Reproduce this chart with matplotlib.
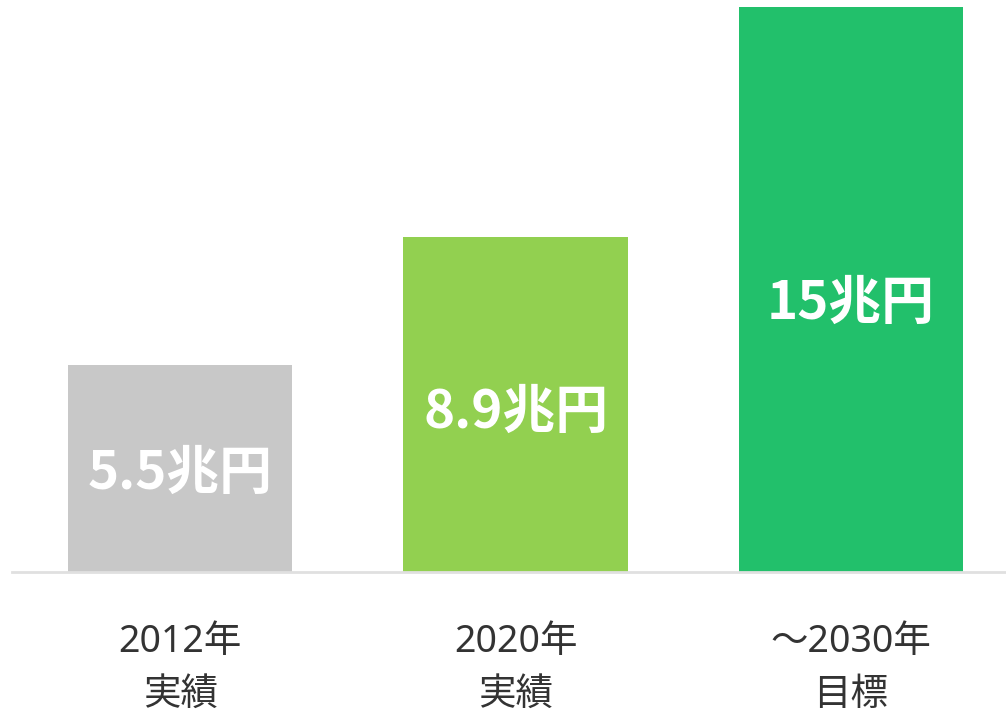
import numpy as np
import matplotlib.pyplot as plt

plt.rcParams['font.family'] = ['Noto Sans', 'Noto Sans CJK JP', 'DejaVu Sans']

# data
categories = ['2012年\n実績', '2020年\n実績', '～2030年\n目標']
values = [5.5, 8.9, 15]
value_labels = ['5.5兆円', '8.9兆円', '15兆円']
colors = ['#c8c8c8', '#92d050', '#22c06b']

fig = plt.figure(figsize=(10.06, 7.14), dpi=100)
ax = fig.add_axes([12/1006, 142/714, 994/1006, 572/714])

x = np.arange(len(values))
bars = ax.bar(x, values, width=0.668, color=colors, zorder=2)

for xi, v, lab in zip(x, values, value_labels):
    ax.text(xi, v * 0.475, lab, ha='center', va='center', color='white',
            fontsize=38, fontweight='bold',
            family=['Noto Sans CJK JP', 'DejaVu Sans'])

ax.set_xlim(-0.501, 2.462)
ax.set_ylim(0, 15.19)
ax.set_yticks([])
ax.set_xticks(x)
ax.set_xticklabels(categories, fontsize=27, color='#333333', linespacing=1.5)
ax.tick_params(axis='x', length=0, pad=37)

for s in ['top', 'right', 'left']:
    ax.spines[s].set_visible(False)
ax.spines['bottom'].set_color('#e0e0e0')
ax.spines['bottom'].set_linewidth(2)

fig.savefig('out.png', dpi=100)
